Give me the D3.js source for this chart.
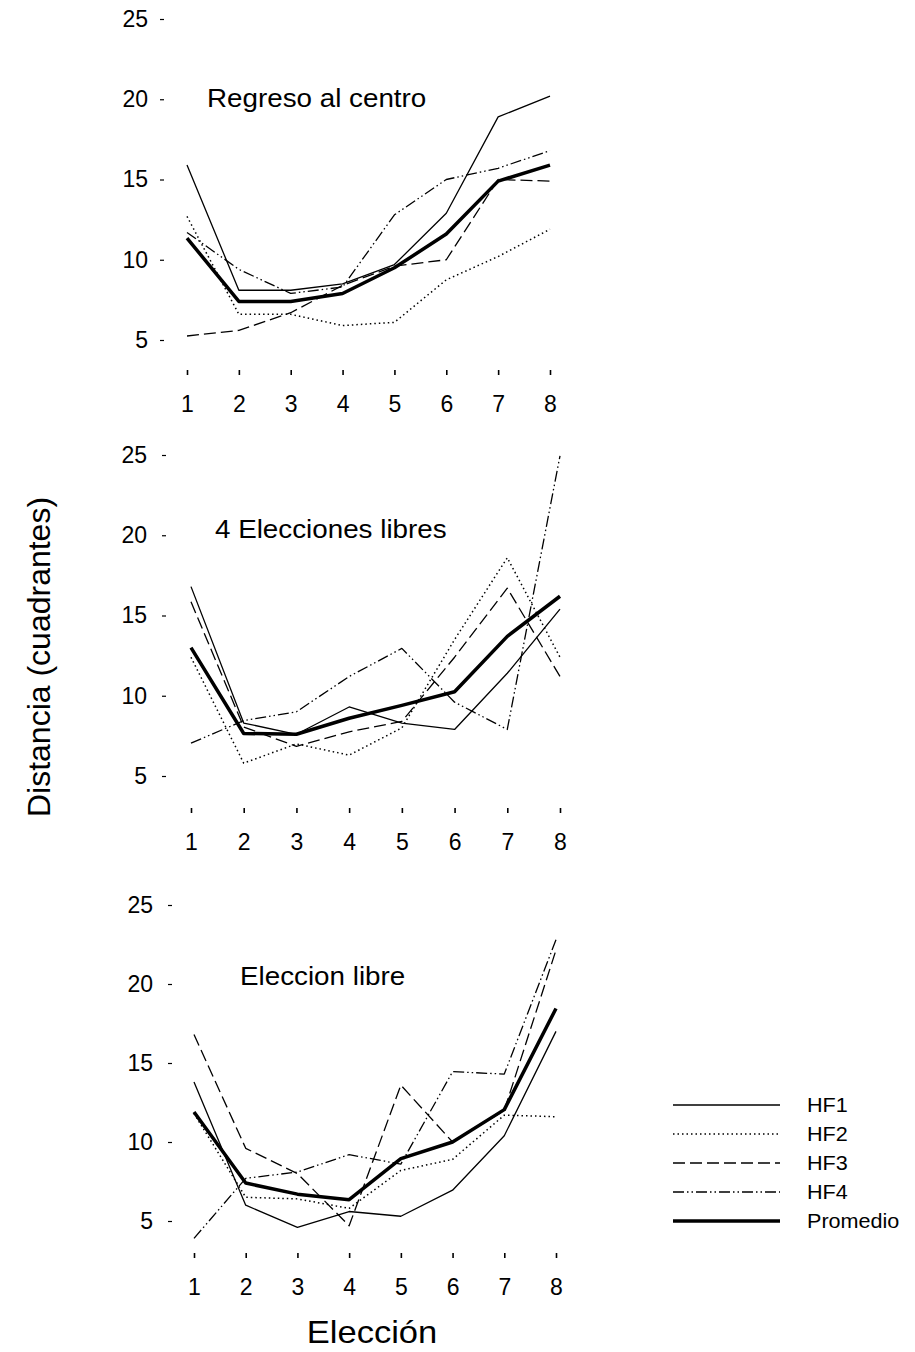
<!DOCTYPE html>
<html>
<head>
<meta charset="utf-8">
<script src="https://cdn.jsdelivr.net/npm/d3@7"></script>
<style>
  body { margin: 0; background: #fff; }
  svg { display: block; }
  text { font-family: "Liberation Sans", Arial, sans-serif; fill: #000; }
</style>
</head>
<body>
<svg id="chart" width="915" height="1352"></svg>
<script>
// elecciones (eje x) y ticks del eje y
var elecciones = [1, 2, 3, 4, 5, 6, 7, 8];
var yTicks = [5, 10, 15, 20, 25];
var seriesNames = ['HF1', 'HF2', 'HF3', 'HF4', 'Promedio'];

// Regreso al centro
var regresoHF1 = [15.9, 8.1, 8.1, 8.5, 9.7, 12.9, 18.9, 20.2];
var regresoHF2 = [12.7, 6.6, 6.6, 5.9, 6.1, 8.75, 10.2, 11.9];
var regresoHF3 = [5.25, 5.6, 6.7, 8.4, 9.6, 10.0, 15.0, 14.9];
var regresoHF4 = [11.7, 9.4, 7.9, 8.3, 12.8, 15.0, 15.7, 16.8];
var regresoProm = [11.35, 7.4, 7.4, 7.9, 9.5, 11.6, 14.9, 15.9];

// 4 Elecciones libres
var cuatroHF1 = [16.8, 8.3, 7.6, 9.3, 8.3, 7.9, 11.4, 15.4];
var cuatroHF2 = [12.4, 5.8, 7.0, 6.3, 8.0, 13.5, 18.6, 12.4];
var cuatroHF3 = [15.85, 8.05, 6.85, 7.75, 8.4, 12.4, 16.7, 11.2];
var cuatroHF4 = [7.05, 8.45, 9.0, 11.2, 12.95, 9.6, 7.9, 24.95];
var cuatroProm = [13.0, 7.65, 7.6, 8.6, 9.4, 10.25, 13.7, 16.2];

// Eleccion libre
var libreHF1 = [13.8, 6.0, 4.6, 5.6, 5.3, 6.95, 10.4, 17.0];
var libreHF2 = [11.8, 6.5, 6.4, 5.8, 8.2, 8.9, 11.7, 11.6];
var libreHF3 = [16.8, 9.6, 8.0, 4.7, 13.6, 10.0, 12.0, 22.15];
var libreHF4 = [3.9, 7.7, 8.1, 9.2, 8.6, 14.45, 14.3, 22.8];
var libreProm = [11.9, 7.4, 6.7, 6.35, 8.95, 10.0, 12.05, 18.45];

var lineStyles = {
  HF1: { width: 1.3, dash: null },
  HF2: { width: 1.5, dash: '1.5,3' },
  HF3: { width: 1.3, dash: '12,5' },
  HF4: { width: 1.3, dash: '11,3,1.5,3,1.5,3' },
  Promedio: { width: 3.5, dash: null }
};

var panels = [
  { title: 'Regreso al centro', series: [regresoHF1, regresoHF2, regresoHF3, regresoHF4, regresoProm],
    x0: 187, x1: 550, yTop: 19, yBot: 340, axisX: 164, labelPad: 12, tickY: 370,
    titleX: 207, titleY: 107 },
  { title: '4 Elecciones libres', series: [cuatroHF1, cuatroHF2, cuatroHF3, cuatroHF4, cuatroProm],
    x0: 191, x1: 560, yTop: 455, yBot: 776, axisX: 166, labelPad: 15, tickY: 808,
    titleX: 215, titleY: 538 },
  { title: 'Eleccion libre', series: [libreHF1, libreHF2, libreHF3, libreHF4, libreProm],
    x0: 194, x1: 556, yTop: 905, yBot: 1221, axisX: 172, labelPad: 15, tickY: 1253,
    titleX: 240, titleY: 985 }
];

var svg = d3.select('#chart');

panels.forEach(function(p) {
  var x = d3.scaleLinear().domain([1, 8]).range([p.x0, p.x1]);
  var y = d3.scaleLinear().domain([5, 25]).range([p.yBot, p.yTop]);
  var g = svg.append('g');

  var yAxis = g.append('g')
    .attr('transform', 'translate(' + p.axisX + ',0)')
    .call(d3.axisLeft(y).tickValues(yTicks).tickSize(4).tickPadding(p.labelPad));
  yAxis.select('.domain').remove();
  yAxis.selectAll('text').style('font-size', '23px').attr('font-family', null);
  yAxis.selectAll('line').attr('stroke-width', 1.2);

  var xAxis = g.append('g')
    .attr('transform', 'translate(0,' + p.tickY + ')')
    .call(d3.axisBottom(x).tickValues(elecciones).tickFormat(d3.format('d')).tickSize(5).tickPadding(21));
  xAxis.select('.domain').remove();
  xAxis.selectAll('text').style('font-size', '23px').attr('font-family', null);
  xAxis.selectAll('line').attr('stroke-width', 1.6);

  // panel title, slightly wide like the original
  g.append('text')
    .attr('transform', 'translate(' + p.titleX + ',' + p.titleY + ') scale(1.09,1)')
    .style('font-size', '25.5px')
    .text(p.title);

  var line = d3.line()
    .x(function(d, i) { return x(elecciones[i]); })
    .y(function(d) { return y(d); });

  p.series.forEach(function(vals, i) {
    var st = lineStyles[seriesNames[i]];
    g.append('path')
      .datum(vals)
      .attr('d', line)
      .attr('fill', 'none')
      .attr('stroke', '#000')
      .attr('stroke-width', st.width)
      .attr('stroke-linejoin', 'round')
      .attr('stroke-dasharray', st.dash);
  });
});

// axis titles
svg.append('text')
  .attr('transform', 'translate(50,657) rotate(-90)')
  .attr('text-anchor', 'middle')
  .style('font-size', '32px')
  .text('Distancia (cuadrantes)');

svg.append('text')
  .attr('transform', 'translate(372,1343) scale(1.08,1)')
  .attr('text-anchor', 'middle')
  .style('font-size', '32px')
  .text('Elección');

// legend
var legend = svg.append('g');
seriesNames.forEach(function(name, i) {
  var st = lineStyles[name];
  var ly = 1105 + i * 29;
  legend.append('line')
    .attr('x1', 673).attr('x2', 780)
    .attr('y1', ly).attr('y2', ly)
    .attr('stroke', '#000')
    .attr('stroke-width', st.width)
    .attr('stroke-dasharray', st.dash);
  legend.append('text')
    .attr('transform', 'translate(807,' + (ly + 7) + ') scale(1.08,1)')
    .style('font-size', '20px')
    .text(name);
});
</script>
</body>
</html>
